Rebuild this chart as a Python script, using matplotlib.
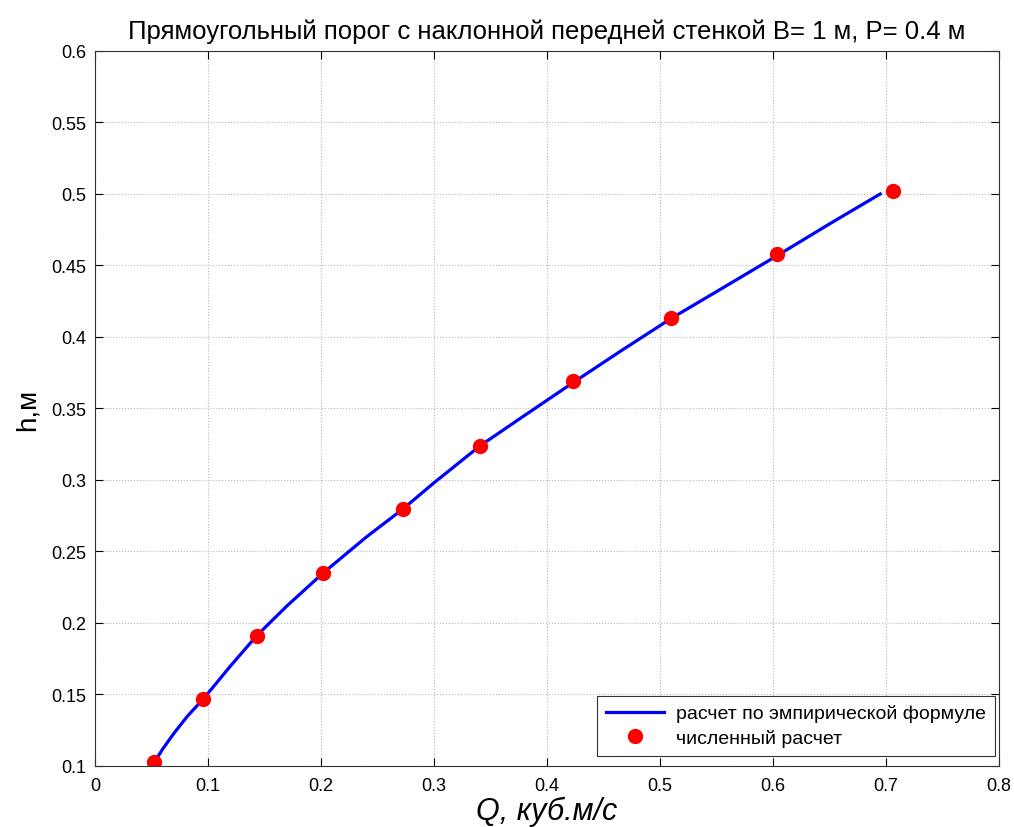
import matplotlib
matplotlib.use('Agg')
import matplotlib.pyplot as plt

plt.rcParams['font.family'] = ['Liberation Sans', 'DejaVu Sans']

# эмпирическая формула (кривая)
q_line = [0.0505, 0.060, 0.070, 0.082, 0.096, 0.120, 0.143, 0.170, 0.202, 0.240, 0.273, 0.300,
          0.341, 0.380, 0.423, 0.465, 0.510, 0.555, 0.604, 0.650, 0.695]
h_line = [0.100, 0.112, 0.123, 0.135, 0.147, 0.170, 0.191, 0.212, 0.235, 0.260, 0.280, 0.298,
          0.324, 0.345, 0.368, 0.390, 0.413, 0.434, 0.457, 0.479, 0.500]

# численный расчет
q_pts = [0.052, 0.096, 0.143, 0.202, 0.273, 0.341, 0.423, 0.510, 0.604, 0.706]
h_pts = [0.103, 0.147, 0.191, 0.235, 0.280, 0.324, 0.369, 0.413, 0.458, 0.502]

fig = plt.figure(figsize=(10.14, 8.28), dpi=100)
ax = fig.add_axes([0.0937, 0.0737, 0.8913, 0.8635])

ax.plot(q_line, h_line, color='#0000ff', lw=2.3, label='расчет по эмпирической формуле')
ax.plot(q_pts, h_pts, 'o', color='#ff0000', ms=10, label='численный расчет')

ax.set_xlim(0, 0.8)
ax.set_ylim(0.1, 0.6)
ax.set_xticks([0, 0.1, 0.2, 0.3, 0.4, 0.5, 0.6, 0.7, 0.8])
ax.set_xticklabels(['0', '0.1', '0.2', '0.3', '0.4', '0.5', '0.6', '0.7', '0.8'])
ax.set_yticks([0.1, 0.15, 0.2, 0.25, 0.3, 0.35, 0.4, 0.45, 0.5, 0.55, 0.6])
ax.set_yticklabels(['0.1', '0.15', '0.2', '0.25', '0.3', '0.35', '0.4', '0.45', '0.5', '0.55', '0.6'])
ax.tick_params(direction='in', top=True, right=True, labelsize=13, length=6)
ax.tick_params(axis='x', pad=8)
ax.tick_params(axis='y', pad=6)
ax.grid(True, linestyle=':', color='#b8b8b8', lw=0.8)
for s in ax.spines.values():
    s.set_color('#333333')

ax.set_title('Прямоугольный порог с наклонной передней стенкой B= 1 м, P= 0.4 м',
             fontsize=18.5, pad=9)
ax.set_xlabel('Q, куб.м/с', fontsize=22, style='italic', labelpad=1)
ax.set_ylabel('h,м', fontsize=20, labelpad=8)

leg = ax.legend(loc='lower right', bbox_to_anchor=(0.9956, 0.014), fontsize=14,
                fancybox=False, edgecolor='#333333', framealpha=1, borderaxespad=0,
                handlelength=3.0, borderpad=0.45, labelspacing=0.35, handletextpad=0.6)
leg.get_frame().set_linewidth(0.8)

fig.savefig('out.png', dpi=100)
